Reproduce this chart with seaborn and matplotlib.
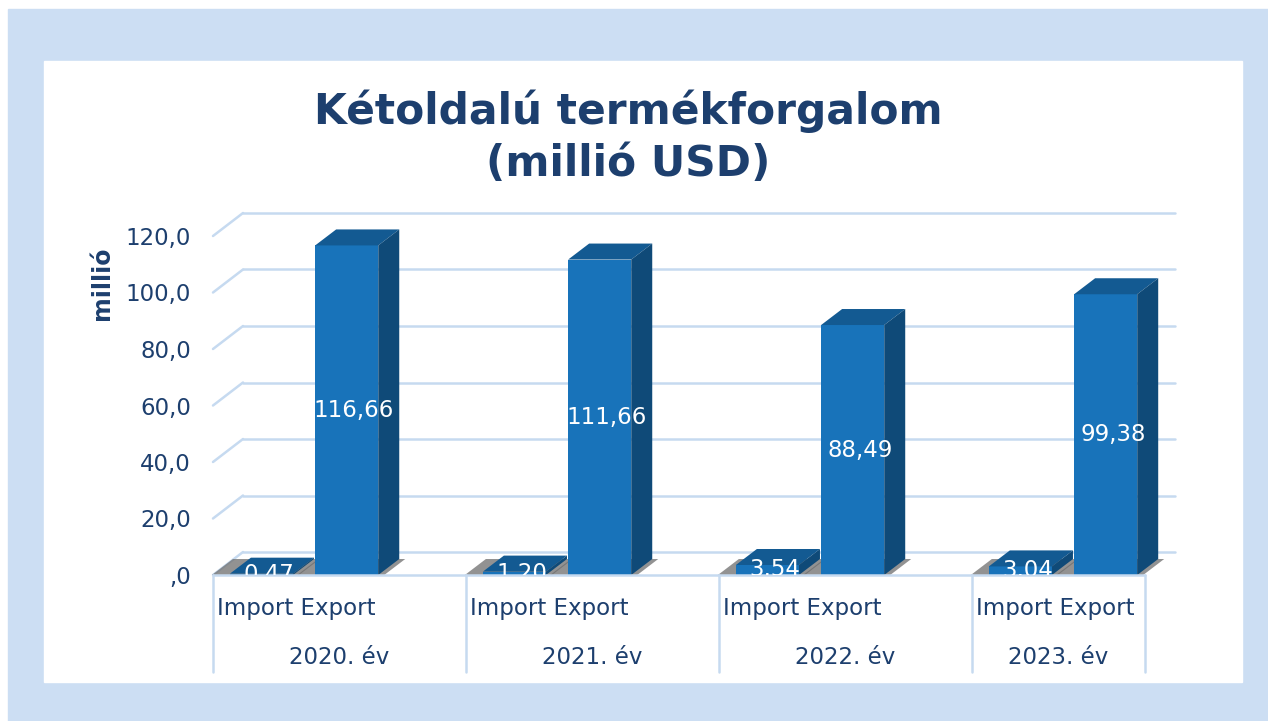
import numpy as np
import pandas as pd
import matplotlib.pyplot as plt
import seaborn as sns
from matplotlib.patches import Polygon, Rectangle
from matplotlib.ticker import FuncFormatter

years = ['2020. év', '2021. év', '2022. év', '2023. év']
flows = ['Import', 'Export']
import_vals = [0.47, 1.20, 3.54, 3.04]
export_vals = [116.66, 111.66, 88.49, 99.38]
yticks = [0, 20, 40, 60, 80, 100, 120]

navy = '#1d3f6e'
front_c = '#1873ba'
side_c = '#0f4a78'
top_c = '#135a92'
grid_c = '#c6daf0'
frame_c = '#ccdef3'


def comma(v, pos=None):
    s = f'{v:.1f}'.replace('.', ',')
    return ',0' if v == 0 else s


def main():
    df = pd.DataFrame({
        'year': years * 2,
        'flow': [flows[0]] * 4 + [flows[1]] * 4,
        'value': import_vals + export_vals,
    })

    sns.set_style('white')
    plt.rcParams['font.family'] = ['DejaVu Sans']

    W, H = 1268, 721
    fig = plt.figure(figsize=(W / 100, H / 100), dpi=100, facecolor='white')
    # blue frame + white panel
    fig.patches.append(Rectangle((8 / W, 0), 1, 1 - 9 / H, transform=fig.transFigure,
                                 color=frame_c, zorder=-10))
    fig.patches.append(Rectangle((44 / W, 1 - 682 / H), (1242 - 44) / W, (682 - 61) / H,
                                 transform=fig.transFigure, color='white', zorder=-9))

    ax = fig.add_axes([213 / W, 1 - 575 / H, (1145 - 213) / W, (575 - 236) / H])
    ax.patch.set_alpha(0)
    sns.barplot(data=df, x='year', y='value', hue='flow', palette=[front_c, front_c],
                saturation=1, width=0.674, gap=0.26, linewidth=0, legend=False,
                ax=ax, zorder=3)

    xmin, xmax = -0.36, 3.324
    ax.set_xlim(xmin, xmax)
    ax.set_ylim(0, 120)
    for s in ax.spines.values():
        s.set_visible(False)
    ax.set_xticks([])
    ax.set_yticks(yticks)
    ax.yaxis.set_major_formatter(FuncFormatter(comma))
    ax.tick_params(axis='y', length=0, pad=16, labelsize=16.5, labelcolor=navy)
    ax.set_xlabel('')
    ax.set_ylabel('')

    # pixel -> data units
    bb = ax.get_window_extent()
    ppx = bb.width / (xmax - xmin)
    ppy = bb.height / 120.0
    wdx, wdy = 30 / ppx, 23 / ppy   # back wall depth
    bdx, bdy = 21 / ppx, 16 / ppy   # bar depth

    # back wall grid + left diagonals
    for v in yticks:
        ax.plot([xmin + wdx, xmax + wdx], [v + wdy, v + wdy], color=grid_c, lw=1.8,
                clip_on=False, zorder=0.5)
        ax.plot([xmin, xmin + wdx], [v, v + wdy], color=grid_c, lw=1.8,
                clip_on=False, zorder=0.5)

    # 3D faces
    for p in ax.patches[:8]:
        x0 = p.get_x()
        x1 = x0 + p.get_width()
        h = p.get_height()
        p.set_clip_on(False)
        sh = Polygon([(x0 - 18 / ppx, 0), (x1 + 6 / ppx, 0), (x1 + bdx + 6 / ppx, bdy),
                      (x0 + bdx - 18 / ppx, bdy)], closed=True, color='#6e6e6e',
                     alpha=0.75, lw=0, zorder=1, clip_on=False)
        ax.add_patch(sh)
        top = Polygon([(x0, h), (x1, h), (x1 + bdx, h + bdy), (x0 + bdx, h + bdy)],
                      closed=True, color=top_c, lw=0, zorder=3, clip_on=False)
        side = Polygon([(x1, 0), (x1 + bdx, bdy), (x1 + bdx, h + bdy), (x1, h)],
                       closed=True, color=side_c, lw=0, zorder=3, clip_on=False)
        ax.add_patch(top)
        ax.add_patch(side)
        ax.text((x0 + x1) / 2 + 0.35 * bdx, h / 2, f'{h:.2f}'.replace('.', ','),
                color='white', fontsize=16.5, ha='center', va='center', zorder=6,
                clip_on=True)

    # category table below the floor
    xt = ax.get_xaxis_transform()
    ax.plot([xmin, xmax], [0, 0], color=grid_c, lw=1.8, clip_on=False, zorder=4)
    bounds = [xmin + i for i in range(len(years))] + [xmax]
    ybot = -(672 - 575) / bb.height
    for b in bounds:
        ax.plot([b, b], [0, ybot], color=grid_c, lw=1.8, transform=xt, clip_on=False)
    for i, yr in enumerate(years):
        left = bounds[i]
        right = min(bounds[i + 1], xmax)
        ax.text(left + 4 / ppx, -(609 - 575) / bb.height, ' '.join(flows), transform=xt,
                ha='left', va='center', fontsize=16.5, color=navy)
        ax.text((left + right) / 2, -(657 - 575) / bb.height, yr, transform=xt,
                ha='center', va='center', fontsize=16.5, color=navy)

    fig.text(628 / W, 1 - 137 / H, 'Kétoldalú termékforgalom\n(millió USD)', ha='center',
             va='center', fontsize=30.5, fontweight='bold', color=navy, linespacing=1.3)
    fig.text(102 / W, 1 - 283 / H, 'millió', rotation=90, ha='center', va='center',
             fontsize=17, fontweight='bold', color=navy)

    fig.savefig('out.png', dpi=100, facecolor=fig.get_facecolor())
    plt.close(fig)


if __name__ == '__main__':
    main()
